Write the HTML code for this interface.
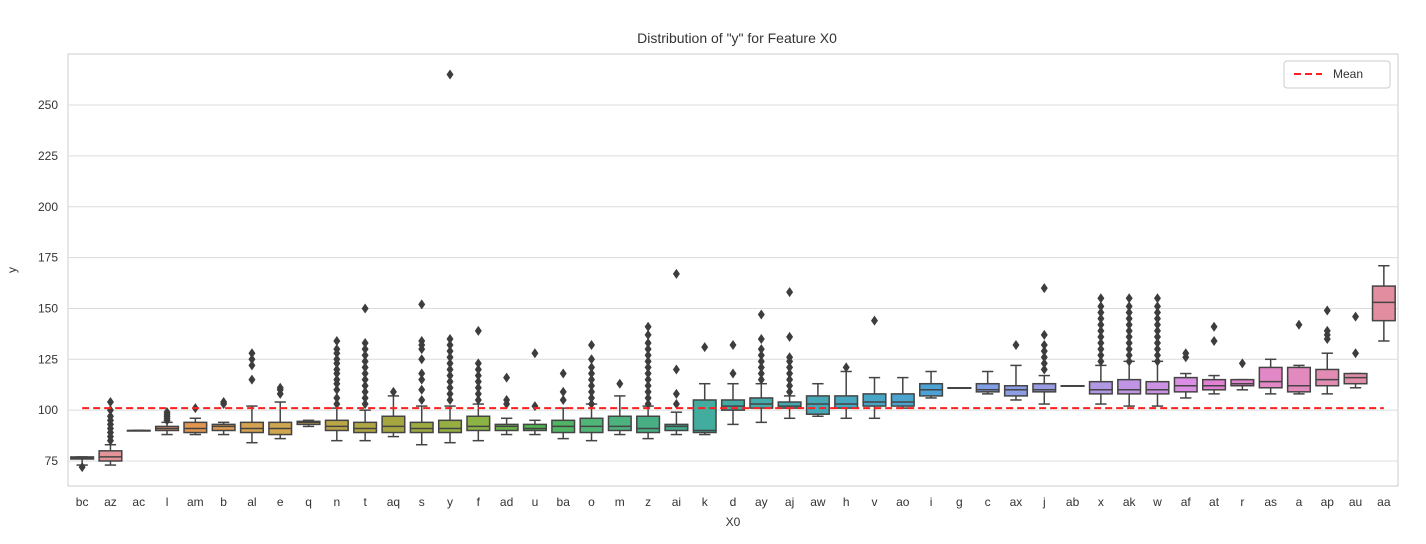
<!DOCTYPE html>
<html><head><meta charset="utf-8"><style>
body{margin:0;background:#fff}
svg text{font-family:"Liberation Sans",sans-serif;fill:#333}
</style></head><body>
<svg id="c" width="1426" height="539"></svg>
<script>
const categories=["bc","az","ac","l","am","b","al","e","q","n","t","aq","s","y","f","ad","u","ba","o","m","z","ai","k","d","ay","aj","aw","h","v","ao","i","g","c","ax","j","ab","x","ak","w","af","at","r","as","a","ap","au","aa"];
const whiskerLow=[73,73,90,88,88,88,84,86,92,85,85,87,83,84,85,88,88,86,85,88,86,88,88,93,94,96,97,96,96,101,106,111,108,105,103,112,103,102,102,106,108,110,108,108,108,111,134];
const q1=[76,75,90,90,89,90,89,88,93,90,89,89,89,89,90,90,90,89,89,90,89,90,89,100,101,101,98,101,102,102,107,111,109,107,109,112,108,108,108,109,110,112,111,109,112,113,144];
const medians=[76.5,77,90,91,91,92,91,91,94,92,91,92,91,91,92,92,91,92,92,92,91,92,90,102,103,102,103,103,104,104,110,111,110,110,110,112,110,110,110,112,112,113,114,112,115,116,153];
const q3=[77,80,90,92,94,93,94,94,94.5,95,94,97,94,95,97,93,93,95,96,97,97,93,105,105,106,104,107,107,108,108,113,111,113,112,113,112,114,115,114,116,115,115,121,121,120,118,161];
const whiskerHigh=[77,83,90,94,96,94,102,104,95,101,100,107,102,102,103,96,95,101,103,107,102,99,113,113,113,107,113,119,116,116,119,111,119,122,117,112,122,124,124,118,117,115,125,122,128,118,171];
const outliers=[[72],[85,87,89,91,93,95,97,100,104],[],[95,96,97,98,99],[101],[103,104],[115,122,125,128],[108,110,111],[],
[103,106,110,113,115,118,120,123,125,128,130,134],[103,106,109,112,115,118,121,124,127,130,133,150],[109],
[105,110,115,118,125,130,132,134,152],[105,108,111,114,117,120,123,126,129,132,135,265],[105,108,111,114,117,120,123,139],
[103,105,116],[102,128],[105,109,118],[103,106,109,112,115,118,121,125,132],[113],
[103,106,109,112,115,118,121,124,127,130,133,137,141],[103,108,120,167],[131],[118,132],
[115,118,121,124,127,130,135,147],[109,112,115,118,121,124,126,136,158],[],[121],[144],[],[],[],[],[132],
[120,123,126,129,132,137,160],[],[124,127,130,133,136,139,142,145,148,151,155],[124,127,130,133,136,139,142,145,148,151,155],
[124,127,130,133,136,139,142,145,148,151,155],[126,128],[134,141],[123],[],[142],[135,137,139,149],[128,146],[]];
const yTicks=[75,100,125,150,175,200,225,250];
const meanValue=101;

// palette anchors (style only)
const anchors=[[0,[225,140,150]],[1,[226,148,152]],[4,[226,150,80]],[7,[208,166,80]],[11,[166,166,64]],[14,[140,180,68]],[16,[80,180,80]],[18,[80,182,120]],[21,[68,172,140]],[22,[66,172,158]],[26,[70,168,182]],[30,[76,162,212]],[32,[128,158,228]],[36,[178,152,228]],[39,[218,142,228]],[40,[226,128,212]],[42,[226,136,198]],[46,[226,142,160]]];
function colorAt(i){for(let k=0;k<anchors.length-1;k++){const [a,ca]=anchors[k],[b,cb]=anchors[k+1];if(i>=a&&i<=b){const t=(i-a)/(b-a);return `rgb(${ca.map((v,j)=>Math.round(v+(cb[j]-v)*t)).join(',')})`;}}return 'gray';}

const NS="http://www.w3.org/2000/svg";
const svg=document.getElementById('c');
const L=68,R=1398,T=54,B=486;
const step=(R-L)/categories.length;
const xs=i=>L+step*(i+0.5);
const ys=v=>461-(v-75)*2.034;
function el(t,a,p){const e=document.createElementNS(NS,t);for(const k in a)e.setAttribute(k,a[k]);(p||svg).appendChild(e);return e;}

const bg=el('rect',{x:L,y:T,width:R-L,height:B-T,fill:'#fff',stroke:'#ccc','stroke-width':1});


yTicks.forEach(v=>{
  const g=el('line',{x1:L,x2:R,y1:ys(v),y2:ys(v),stroke:'#dcdcdc','stroke-width':1});
  
  
  const t=el('text',{x:L-10,y:ys(v)+4,'text-anchor':'end','font-size':12});
  t.textContent=v;
  
  
});
const bw=step*0.8;
categories.forEach((c,i)=>{
  const col=colorAt(i);
  const g=el('g',{});
  
  
  const x=xs(i);
  el('line',{x1:x,x2:x,y1:ys(whiskerLow[i]),y2:ys(q1[i]),stroke:'#444','stroke-width':1.5},g);
  el('line',{x1:x,x2:x,y1:ys(q3[i]),y2:ys(whiskerHigh[i]),stroke:'#444','stroke-width':1.5},g);
  el('line',{x1:x-bw/4,x2:x+bw/4,y1:ys(whiskerLow[i]),y2:ys(whiskerLow[i]),stroke:'#444','stroke-width':1.5},g);
  el('line',{x1:x-bw/4,x2:x+bw/4,y1:ys(whiskerHigh[i]),y2:ys(whiskerHigh[i]),stroke:'#444','stroke-width':1.5},g);
  el('rect',{x:x-bw/2,y:ys(q3[i]),width:bw,height:Math.max(ys(q1[i])-ys(q3[i]),0.5),fill:col,stroke:'#444','stroke-width':1.5},g);
  el('line',{x1:x-bw/2,x2:x+bw/2,y1:ys(medians[i]),y2:ys(medians[i]),stroke:'#444','stroke-width':1.5},g);
  outliers[i].forEach(o=>{
    const y=ys(o);
    el('path',{d:`M${x} ${y-5}L${x+3.5} ${y}L${x} ${y+5}L${x-3.5} ${y}Z`,fill:'#3d3d3d'},g);
  });
  const t=el('text',{x:x,y:506,'text-anchor':'middle','font-size':12});
  t.textContent=c;
  
  
});
const m=el('line',{x1:xs(0),x2:xs(categories.length-1),y1:ys(meanValue),y2:ys(meanValue),stroke:'#ff2020','stroke-width':2,'stroke-dasharray':'7,4'});



const lg=el('g',{});


el('rect',{x:1284,y:61,width:106,height:27,rx:3,fill:'#fff',stroke:'#ccc'},lg);
el('line',{x1:1294,x2:1322,y1:74,y2:74,stroke:'#ff2020','stroke-width':2,'stroke-dasharray':'7,4'},lg);
const lt=el('text',{x:1333,y:78,'font-size':12},lg);lt.textContent='Mean';

const tt=el('text',{x:737,y:43,'text-anchor':'middle','font-size':14});
tt.textContent='Distribution of "y" for Feature X0';


const xl=el('text',{x:733,y:526,'text-anchor':'middle','font-size':12});
xl.textContent='X0';


const yl=el('text',{x:16,y:270,'text-anchor':'middle','font-size':12,transform:'rotate(-90 16 270)'});
yl.textContent='y';


</script>
</body></html>
